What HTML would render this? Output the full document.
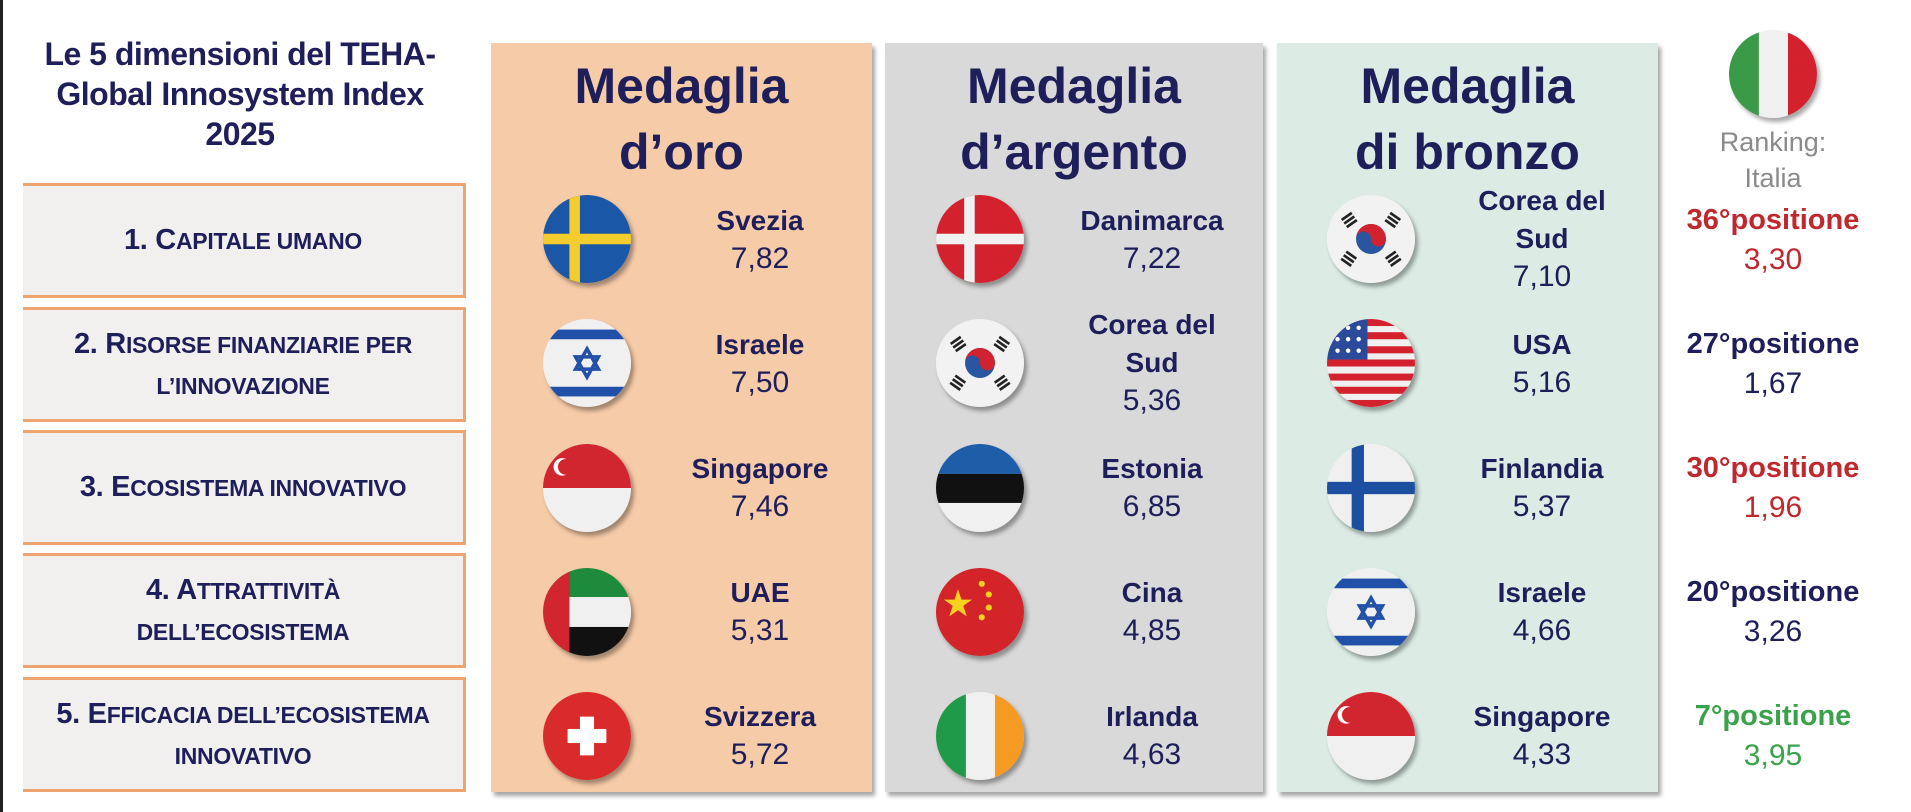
<!DOCTYPE html>
<html><head><meta charset="utf-8"><style>
*{margin:0;padding:0;box-sizing:border-box}
body{width:1911px;height:812px;background:#fff;position:relative;overflow:hidden;font-family:"Liberation Sans Narrow","Liberation Sans",sans-serif;color:#1e1e5a}
.a{position:absolute}
.lb{position:absolute;left:0;top:0;width:3px;height:812px;background:#222}
.title{left:20px;top:34px;width:440px;text-align:center;font-weight:bold;font-size:32px;line-height:40px;letter-spacing:-0.5px}
.box{position:absolute;left:23px;width:443px;height:115px;background:#f1f0ef;border:3px solid #eea46e;border-left:none;display:flex;align-items:center;justify-content:center;text-align:center;font-weight:bold;font-size:29px;line-height:40px;font-family:"Liberation Sans",sans-serif;letter-spacing:-0.3px}
.box .s{font-size:23px}
.panel{position:absolute;top:43px;height:749px;box-shadow:3px 4px 4px rgba(0,0,0,.35)}
.hd{position:absolute;top:53px;text-align:center;font-weight:bold;font-size:50px;line-height:66px;font-family:"Liberation Sans",sans-serif}
.fl{position:absolute;width:88px;height:88px;border-radius:50%;box-shadow:3px 4px 4px rgba(0,0,0,.35);overflow:hidden}
.fl svg{display:block}
.ct{position:absolute;width:220px;text-align:center;font-size:30px;line-height:38px}
.ct b{font-family:"Liberation Sans",sans-serif;font-size:28px}
.rk{position:absolute;left:1663px;width:220px;text-align:center;font-size:30px;line-height:40px}
.rk b{font-family:"Liberation Sans",sans-serif;font-size:29px}
</style></head><body>
<div class="lb"></div>
<div class="a title">Le 5 dimensioni del TEHA-<br>Global Innosystem Index<br>2025</div>

<div class="box" style="top:183px"><div>1. C<span class="s">APITALE UMANO</span></div></div>
<div class="box" style="top:307px"><div>2. R<span class="s">ISORSE FINANZIARIE PER</span><br><span class="s">L’INNOVAZIONE</span></div></div>
<div class="box" style="top:430px"><div>3. E<span class="s">COSISTEMA INNOVATIVO</span></div></div>
<div class="box" style="top:553px"><div>4. A<span class="s">TTRATTIVITÀ</span><br><span class="s">DELL’ECOSISTEMA</span></div></div>
<div class="box" style="top:677px"><div>5. E<span class="s">FFICACIA DELL’ECOSISTEMA</span><br><span class="s">INNOVATIVO</span></div></div>

<div class="panel" style="left:491px;width:381px;background:#f6cba8"></div>
<div class="panel" style="left:885px;width:378px;background:#d9d9d9"></div>
<div class="panel" style="left:1277px;width:381px;background:#dcece5"></div>

<div class="hd" style="left:491px;width:381px">Medaglia<br>d’oro</div>
<div class="hd" style="left:885px;width:378px">Medaglia<br>d’argento</div>
<div class="hd" style="left:1277px;width:381px">Medaglia<br>di bronzo</div>

<!-- Gold flags -->
<div class="fl" style="left:543px;top:195px"><svg width="88" height="88" viewBox="0 0 100 100"><rect width="100" height="100" fill="#1a57a6"/><rect x="30" width="12" height="100" fill="#f3cc2e"/><rect y="44" width="100" height="12" fill="#f3cc2e"/></svg></div>
<div class="fl" style="left:543px;top:319px"><svg width="88" height="88" viewBox="0 0 100 100"><rect width="100" height="100" fill="#f0f0f0"/><rect y="12" width="100" height="11" fill="#2150a8"/><rect y="77" width="100" height="11" fill="#2150a8"/><polygon points="50,34 63,57 37,57" fill="none" stroke="#2150a8" stroke-width="4"/><polygon points="50,66 63,43 37,43" fill="none" stroke="#2150a8" stroke-width="4"/></svg></div>
<div class="fl" style="left:543px;top:444px"><svg width="88" height="88" viewBox="0 0 100 100"><rect width="100" height="100" fill="#f0f0f0"/><rect width="100" height="50" fill="#d12630"/><circle cx="22" cy="26" r="10" fill="#fff"/><circle cx="26" cy="26" r="9" fill="#d12630"/></svg></div>
<div class="fl" style="left:543px;top:568px"><svg width="88" height="88" viewBox="0 0 100 100"><rect width="100" height="33" fill="#1e8a3c"/><rect y="33" width="100" height="34" fill="#f0f0f0"/><rect y="67" width="100" height="33" fill="#111"/><rect width="30" height="100" fill="#d12630"/></svg></div>
<div class="fl" style="left:543px;top:692px"><svg width="88" height="88" viewBox="0 0 100 100"><rect width="100" height="100" fill="#d92b2b"/><rect x="42" y="28" width="16" height="44" fill="#fff"/><rect x="28" y="42" width="44" height="16" fill="#fff"/></svg></div>

<!-- Silver flags -->
<div class="fl" style="left:936px;top:195px"><svg width="88" height="88" viewBox="0 0 100 100"><rect width="100" height="100" fill="#d3222e"/><rect x="32" width="12" height="100" fill="#f0f0f0"/><rect y="44" width="100" height="12" fill="#f0f0f0"/></svg></div>
<div class="fl" style="left:936px;top:319px"><svg width="88" height="88" viewBox="0 0 100 100"><rect width="100" height="100" fill="#f2f2f2"/><circle cx="50" cy="50" r="17" fill="#2a55a0"/><path d="M33,50 A17,17 0 0 1 67,50 A8.5,8.5 0 0 1 50,50 A8.5,8.5 0 0 0 33,50Z" fill="#d1232f"/><g fill="#222"><rect x="18" y="22" width="14" height="3" transform="rotate(-35 25 28)"/><rect x="18" y="27" width="14" height="3" transform="rotate(-35 25 28)"/><rect x="18" y="32" width="14" height="3" transform="rotate(-35 25 28)"/><rect x="68" y="22" width="14" height="3" transform="rotate(35 75 28)"/><rect x="68" y="27" width="14" height="3" transform="rotate(35 75 28)"/><rect x="68" y="32" width="14" height="3" transform="rotate(35 75 28)"/><rect x="18" y="66" width="14" height="3" transform="rotate(35 25 72)"/><rect x="18" y="71" width="14" height="3" transform="rotate(35 25 72)"/><rect x="18" y="76" width="14" height="3" transform="rotate(35 25 72)"/><rect x="68" y="66" width="14" height="3" transform="rotate(-35 75 72)"/><rect x="68" y="71" width="14" height="3" transform="rotate(-35 75 72)"/><rect x="68" y="76" width="14" height="3" transform="rotate(-35 75 72)"/></g></svg></div>
<div class="fl" style="left:936px;top:444px"><svg width="88" height="88" viewBox="0 0 100 100"><rect width="100" height="34" fill="#1e5ea8"/><rect y="34" width="100" height="33" fill="#111"/><rect y="67" width="100" height="33" fill="#f0f0f0"/></svg></div>
<div class="fl" style="left:936px;top:568px"><svg width="88" height="88" viewBox="0 0 100 100"><rect width="100" height="100" fill="#d3242a"/><g fill="#f6d21f"><polygon points="25,24 29,36 41,36 31,43 35,55 25,48 15,55 19,43 9,36 21,36"/><circle cx="52" cy="18" r="3.5"/><circle cx="60" cy="30" r="3.5"/><circle cx="60" cy="45" r="3.5"/><circle cx="52" cy="56" r="3.5"/></g></svg></div>
<div class="fl" style="left:936px;top:692px"><svg width="88" height="88" viewBox="0 0 100 100"><rect width="34" height="100" fill="#1f9a49"/><rect x="34" width="33" height="100" fill="#f0f0f0"/><rect x="67" width="33" height="100" fill="#f59a23"/></svg></div>

<!-- Bronze flags -->
<div class="fl" style="left:1327px;top:195px"><svg width="88" height="88" viewBox="0 0 100 100"><rect width="100" height="100" fill="#f2f2f2"/><circle cx="50" cy="50" r="17" fill="#2a55a0"/><path d="M33,50 A17,17 0 0 1 67,50 A8.5,8.5 0 0 1 50,50 A8.5,8.5 0 0 0 33,50Z" fill="#d1232f"/><g fill="#222"><rect x="18" y="22" width="14" height="3" transform="rotate(-35 25 28)"/><rect x="18" y="27" width="14" height="3" transform="rotate(-35 25 28)"/><rect x="18" y="32" width="14" height="3" transform="rotate(-35 25 28)"/><rect x="68" y="22" width="14" height="3" transform="rotate(35 75 28)"/><rect x="68" y="27" width="14" height="3" transform="rotate(35 75 28)"/><rect x="68" y="32" width="14" height="3" transform="rotate(35 75 28)"/><rect x="18" y="66" width="14" height="3" transform="rotate(35 25 72)"/><rect x="18" y="71" width="14" height="3" transform="rotate(35 25 72)"/><rect x="18" y="76" width="14" height="3" transform="rotate(35 25 72)"/><rect x="68" y="66" width="14" height="3" transform="rotate(-35 75 72)"/><rect x="68" y="71" width="14" height="3" transform="rotate(-35 75 72)"/><rect x="68" y="76" width="14" height="3" transform="rotate(-35 75 72)"/></g></svg></div>
<div class="fl" style="left:1327px;top:319px"><svg width="88" height="88" viewBox="0 0 100 100"><rect width="100" height="100" fill="#f0f0f0"/><g fill="#d3222e"><rect y="0" width="100" height="8"/><rect y="15" width="100" height="8"/><rect y="31" width="100" height="8"/><rect y="46" width="100" height="8"/><rect y="62" width="100" height="8"/><rect y="77" width="100" height="8"/><rect y="92" width="100" height="8"/></g><rect width="46" height="46" fill="#2b4a9a"/><g fill="#fff"><circle cx="12" cy="10" r="2.5"/><circle cx="24" cy="10" r="2.5"/><circle cx="36" cy="10" r="2.5"/><circle cx="12" cy="23" r="2.5"/><circle cx="24" cy="23" r="2.5"/><circle cx="36" cy="23" r="2.5"/><circle cx="12" cy="36" r="2.5"/><circle cx="24" cy="36" r="2.5"/><circle cx="36" cy="36" r="2.5"/></g></svg></div>
<div class="fl" style="left:1327px;top:444px"><svg width="88" height="88" viewBox="0 0 100 100"><rect width="100" height="100" fill="#f0f0f0"/><rect x="28" width="14" height="100" fill="#1c4fa0"/><rect y="43" width="100" height="14" fill="#1c4fa0"/></svg></div>
<div class="fl" style="left:1327px;top:568px"><svg width="88" height="88" viewBox="0 0 100 100"><rect width="100" height="100" fill="#f0f0f0"/><rect y="12" width="100" height="11" fill="#2150a8"/><rect y="77" width="100" height="11" fill="#2150a8"/><polygon points="50,34 63,57 37,57" fill="none" stroke="#2150a8" stroke-width="4"/><polygon points="50,66 63,43 37,43" fill="none" stroke="#2150a8" stroke-width="4"/></svg></div>
<div class="fl" style="left:1327px;top:692px"><svg width="88" height="88" viewBox="0 0 100 100"><rect width="100" height="100" fill="#f0f0f0"/><rect width="100" height="50" fill="#d12630"/><circle cx="22" cy="26" r="10" fill="#fff"/><circle cx="26" cy="26" r="9" fill="#d12630"/></svg></div>

<!-- Italy -->
<div class="fl" style="left:1729px;top:30px"><svg width="88" height="88" viewBox="0 0 100 100"><rect width="34" height="100" fill="#3a9a48"/><rect x="34" width="33" height="100" fill="#f0f0f0"/><rect x="67" width="33" height="100" fill="#d3222e"/></svg></div>

<!-- Gold text -->
<div class="ct" style="left:650px;top:202px"><b>Svezia</b><br>7,82</div>
<div class="ct" style="left:650px;top:326px"><b>Israele</b><br>7,50</div>
<div class="ct" style="left:650px;top:450px"><b>Singapore</b><br>7,46</div>
<div class="ct" style="left:650px;top:574px"><b>UAE</b><br>5,31</div>
<div class="ct" style="left:650px;top:698px"><b>Svizzera</b><br>5,72</div>

<!-- Silver text -->
<div class="ct" style="left:1042px;top:202px"><b>Danimarca</b><br>7,22</div>
<div class="ct" style="left:1042px;top:306px"><b>Corea del<br>Sud</b><br>5,36</div>
<div class="ct" style="left:1042px;top:450px"><b>Estonia</b><br>6,85</div>
<div class="ct" style="left:1042px;top:574px"><b>Cina</b><br>4,85</div>
<div class="ct" style="left:1042px;top:698px"><b>Irlanda</b><br>4,63</div>

<!-- Bronze text -->
<div class="ct" style="left:1432px;top:182px"><b>Corea del<br>Sud</b><br>7,10</div>
<div class="ct" style="left:1432px;top:326px"><b>USA</b><br>5,16</div>
<div class="ct" style="left:1432px;top:450px"><b>Finlandia</b><br>5,37</div>
<div class="ct" style="left:1432px;top:574px"><b>Israele</b><br>4,66</div>
<div class="ct" style="left:1432px;top:698px"><b>Singapore</b><br>4,33</div>

<!-- Ranking -->
<div class="rk" style="top:124px;color:#8a8a8a;font-size:27px;line-height:36px">Ranking:<br>Italia</div>
<div class="rk" style="top:200px;color:#c0282d"><b>36°positione</b><br>3,30</div>
<div class="rk" style="top:324px"><b>27°positione</b><br>1,67</div>
<div class="rk" style="top:448px;color:#c0282d"><b>30°positione</b><br>1,96</div>
<div class="rk" style="top:572px"><b>20°positione</b><br>3,26</div>
<div class="rk" style="top:696px;color:#3aa24a"><b>7°positione</b><br>3,95</div>
</body></html>
